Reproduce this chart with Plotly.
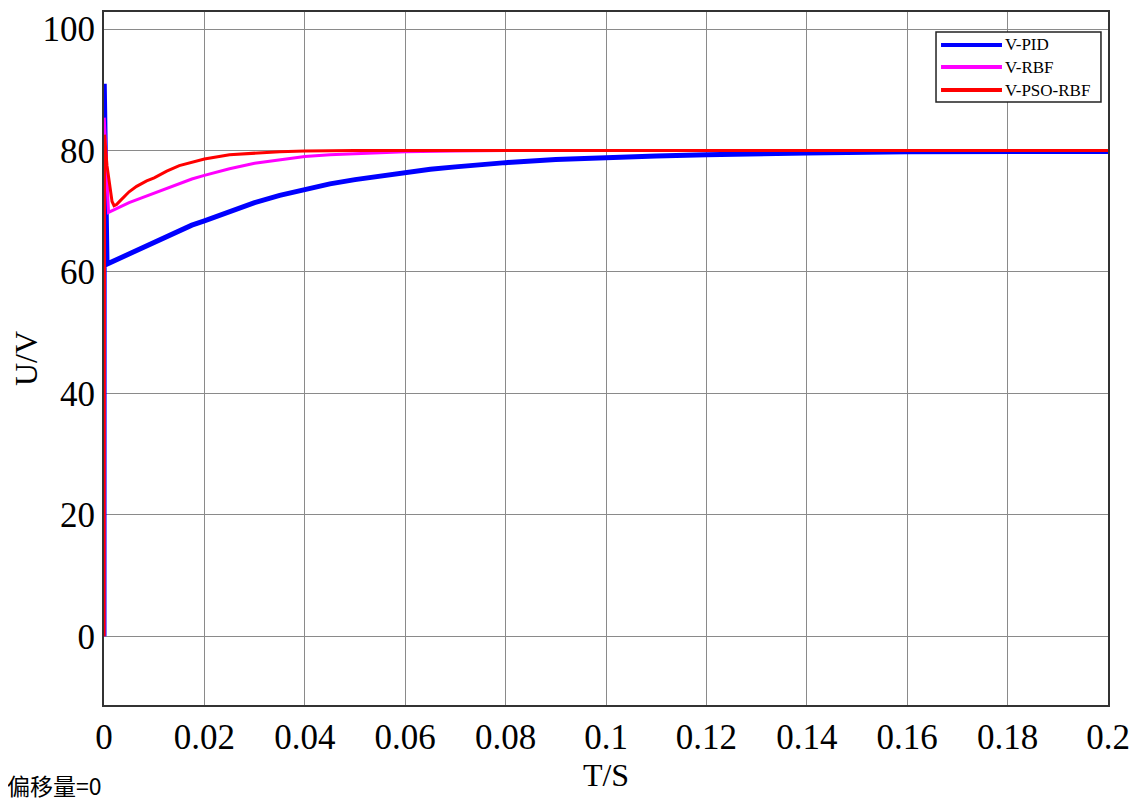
import plotly.graph_objects as go

t_pid = [0, 0.00005, 0.0006, 0.003, 0.005, 0.0075, 0.01, 0.0125, 0.015, 0.0175, 0.02, 0.025, 0.03, 0.035, 0.04, 0.045,
         0.05, 0.055, 0.06, 0.065, 0.07, 0.075, 0.08, 0.09, 0.10, 0.11, 0.12, 0.13, 0.14, 0.16, 0.18, 0.20]
v_pid = [0, 91.0, 61.3, 62.2, 63.1, 64.0, 64.9, 65.9, 66.8, 67.7, 68.4, 70.0, 71.4, 72.6, 73.6, 74.5,
         75.2, 75.8, 76.3, 76.9, 77.3, 77.7, 78.0, 78.5, 78.9, 79.1, 79.3, 79.5, 79.6, 79.8, 79.85, 79.85]

t_rbf = [0, 0.00005, 0.0009, 0.003, 0.005, 0.0075, 0.01, 0.0125, 0.015, 0.0175, 0.02, 0.025, 0.03, 0.035, 0.04,
         0.045, 0.05, 0.055, 0.06, 0.07, 0.08, 0.10, 0.20]
v_rbf = [0, 85.4, 69.8, 70.6, 71.4, 72.2, 73.0, 73.8, 74.6, 75.3, 75.9, 77.0, 77.9, 78.5, 79.0,
         79.3, 79.5, 79.7, 79.8, 79.9, 80.0, 80.0, 80.0]

t_pso = [0, 0.0001, 0.0006, 0.0012, 0.0016, 0.0020, 0.0025, 0.0032, 0.004, 0.005, 0.0065, 0.0075, 0.0085,
         0.01, 0.0125, 0.015, 0.0175, 0.02, 0.025, 0.03, 0.035, 0.04, 0.05, 0.10, 0.20]
v_pso = [0, 82.6, 77.5, 73.5, 71.6, 70.9, 71.1, 71.7, 72.4, 73.2, 74.1, 74.6, 75.0,
         75.5, 76.6, 77.5, 78.1, 78.6, 79.3, 79.6, 79.8, 79.9, 80.0, 80.0, 80.0]

series_names = ["V-PID", "V-RBF", "V-PSO-RBF"]
series_colors = ["#0000ff", "#ff00ff", "#ff0000"]
series_widths = [5, 3, 3]

x_ticks = [0, 0.02, 0.04, 0.06, 0.08, 0.1, 0.12, 0.14, 0.16, 0.18, 0.2]
x_tick_text = ["0", "0.02", "0.04", "0.06", "0.08", "0.1", "0.12", "0.14", "0.16", "0.18", "0.2"]
y_ticks = [0, 20, 40, 60, 80, 100]

serif = "Liberation Serif, Times New Roman, serif"

fig = go.Figure()
for (tx, vy), name, color, w in zip([(t_pid, v_pid), (t_rbf, v_rbf), (t_pso, v_pso)],
                                    series_names, series_colors, series_widths):
    fig.add_trace(go.Scatter(x=tx, y=vy, mode="lines", name=name,
                             line=dict(color=color, width=w), showlegend=False))

axis_common = dict(showgrid=True, gridcolor="#8a8a8a", gridwidth=1, automargin=False,
                   showline=True, linecolor="#333333", linewidth=2, mirror=True,
                   zeroline=False, ticks="", tickfont=dict(family=serif, size=35, color="black"))

fig.update_xaxes(range=[0, 0.2], tickvals=x_ticks, ticktext=x_tick_text,
                 title=dict(text="T/S", font=dict(family=serif, size=32, color="black"), standoff=4),
                 **axis_common)
fig.update_yaxes(range=[-11.3, 102.8], tickvals=y_ticks,
                 title=dict(text="U/V", font=dict(family=serif, size=32, color="black"), standoff=8),
                 **axis_common)

fig.update_layout(
    width=1146, height=800,
    margin=dict(l=96, r=46, t=4, b=103),
    plot_bgcolor="white", paper_bgcolor="white",
    showlegend=False,
)

# Custom legend box (matches reference layout)
fig.add_shape(type="rect", xref="paper", yref="paper", x0=0.8287, x1=0.9930, y0=0.8701, y1=0.9711,
              line=dict(color="#222222", width=1.5), fillcolor="white", layer="above")
leg_y = [0.9524, 0.9206, 0.8874]
for name, color, ly in zip(series_names, series_colors, leg_y):
    fig.add_shape(type="line", xref="paper", yref="paper", x0=0.8337, x1=0.8944, y0=ly, y1=ly,
                  line=dict(color=color, width=4), layer="above")
    fig.add_annotation(text=name, xref="paper", yref="paper", x=0.8950, y=ly,
                       xanchor="left", yanchor="middle", showarrow=False,
                       font=dict(family=serif, size=17, color="black"))

fig.add_annotation(text="偏移量=0", xref="paper", yref="paper", x=-0.0986, y=-0.1154,
                   xanchor="left", yanchor="middle", showarrow=False,
                   font=dict(family="Noto Sans CJK SC", size=23, color="black"))

fig.write_html("out.html")
